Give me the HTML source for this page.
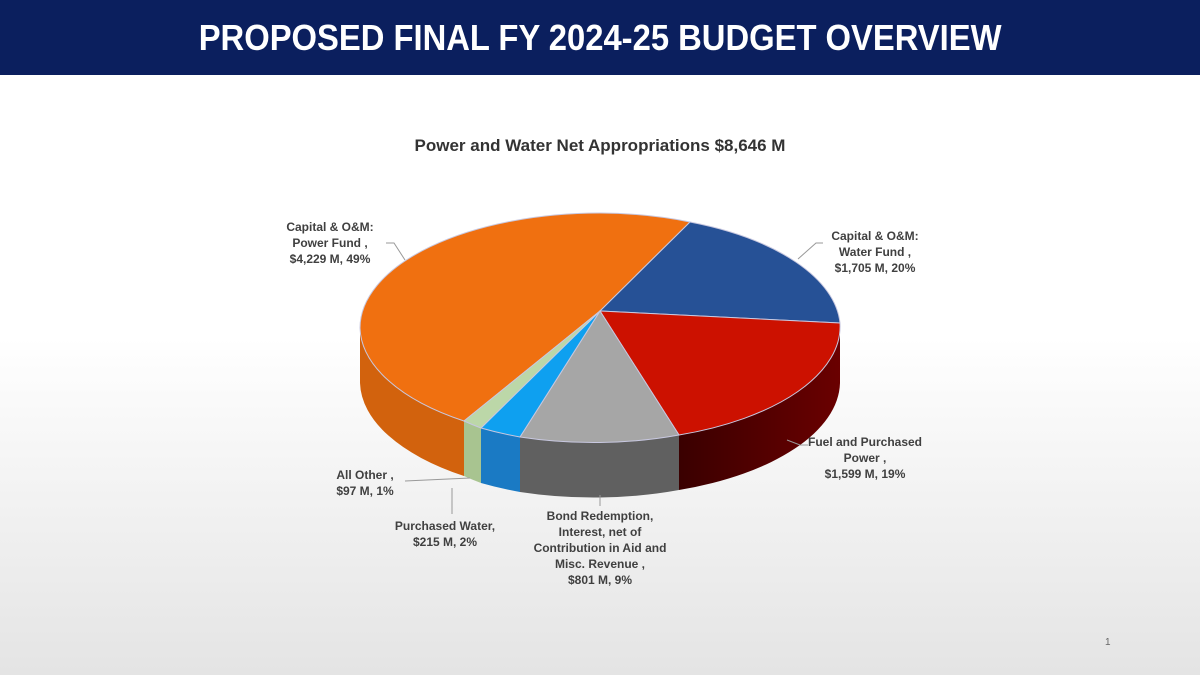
<!DOCTYPE html>
<html><head><meta charset="utf-8"><style>
body{margin:0;width:1200px;height:675px;overflow:hidden;font-family:"Liberation Sans",sans-serif;background:linear-gradient(#fff 0%,#fff 50%,#e4e4e4 100%);position:relative}
.hdr{position:absolute;left:0;top:0;width:1200px;height:75px;background:#0b1f5e;color:#fff;font-weight:bold;font-size:36px;text-align:center;line-height:75px}
.hdr span{display:inline-block;transform:scaleX(0.91)}
.t{position:absolute;left:375px;top:122px;width:450px;height:48px;background:#fff;text-align:center;line-height:48px;font-weight:bold;font-size:17px;color:#333}
.l{position:absolute;font-size:12px;font-weight:bold;color:#404040;text-align:center;line-height:16px}
</style></head><body>
<div class="hdr"><span>PROPOSED FINAL FY 2024-25 BUDGET OVERVIEW</span></div>
<div class="t">Power and Water Net Appropriations $8,646 M</div>
<svg width="1200" height="675" style="position:absolute;left:0;top:0">
<defs>
<linearGradient id="rs" x1="0" x2="1"><stop offset="0" stop-color="#3a0000"/><stop offset="1" stop-color="#6a0000"/></linearGradient>
</defs>
<path d="M360 328 A240 115 0 0 0 464 421 L464 476 A240 115 0 0 1 360 383 Z" fill="#d2620d"/>
<path d="M464 421 A240 115 0 0 0 481 428 L481 483 A240 115 0 0 1 464 476 Z" fill="#a8c490"/>
<path d="M481 428 A240 115 0 0 0 520 437 L520 492 A240 115 0 0 1 481 483 Z" fill="#1a7ac4"/>
<path d="M520 437 A240 115 0 0 0 679 435 L679 490 A240 115 0 0 1 520 492 Z" fill="#606060"/>
<path d="M679 435 A240 115 0 0 0 840 328 L840 383 A240 115 0 0 1 679 490 Z" fill="url(#rs)"/>
<g stroke="#c8c8e0" stroke-width="1">
<path d="M600 311 L464 421 A240 115 0 0 1 360 328 A240 115 0 0 1 600 213 A240 115 0 0 1 690 222 Z" fill="#f07010"/>
<path d="M600 311 L690 222 A240 115 0 0 1 840 323 Z" fill="#265196"/>
<path d="M600 311 L840 323 A240 115 0 0 1 679 435 Z" fill="#cc1100"/>
<path d="M600 311 L679 435 A240 115 0 0 1 520 437 Z" fill="#a6a6a6"/>
<path d="M600 311 L520 437 A240 115 0 0 1 481 428 Z" fill="#0ea0f0"/>
<path d="M600 311 L481 428 A240 115 0 0 1 464 421 Z" fill="#bcd7a8"/>
</g>
<g stroke="#999" fill="none" stroke-width="1">
<path d="M386 243 L394 243 L405 260"/>
<path d="M823 243 L816 243 L798 259"/>
<path d="M808 445 L800 445 L787 440"/>
<path d="M405 481 L470 478"/>
<path d="M452 514 L452 488"/>
<path d="M600 506 L600 495"/>
</g>
<text x="1105" y="645" font-size="10" fill="#666" font-family="Liberation Sans">1</text>
</svg>
<div class="l" style="left:270px;top:219px;width:120px">Capital &amp; O&amp;M:<br>Power Fund ,<br>$4,229 M, 49%</div>
<div class="l" style="left:815px;top:228px;width:120px">Capital &amp; O&amp;M:<br>Water Fund ,<br>$1,705 M, 20%</div>
<div class="l" style="left:800px;top:434px;width:130px">Fuel and Purchased<br>Power ,<br>$1,599 M, 19%</div>
<div class="l" style="left:320px;top:467px;width:90px">All Other ,<br>$97 M, 1%</div>
<div class="l" style="left:385px;top:518px;width:120px">Purchased Water,<br>$215 M, 2%</div>
<div class="l" style="left:530px;top:508px;width:140px">Bond Redemption,<br>Interest, net of<br>Contribution in Aid and<br>Misc. Revenue ,<br>$801 M, 9%</div>
</body></html>
